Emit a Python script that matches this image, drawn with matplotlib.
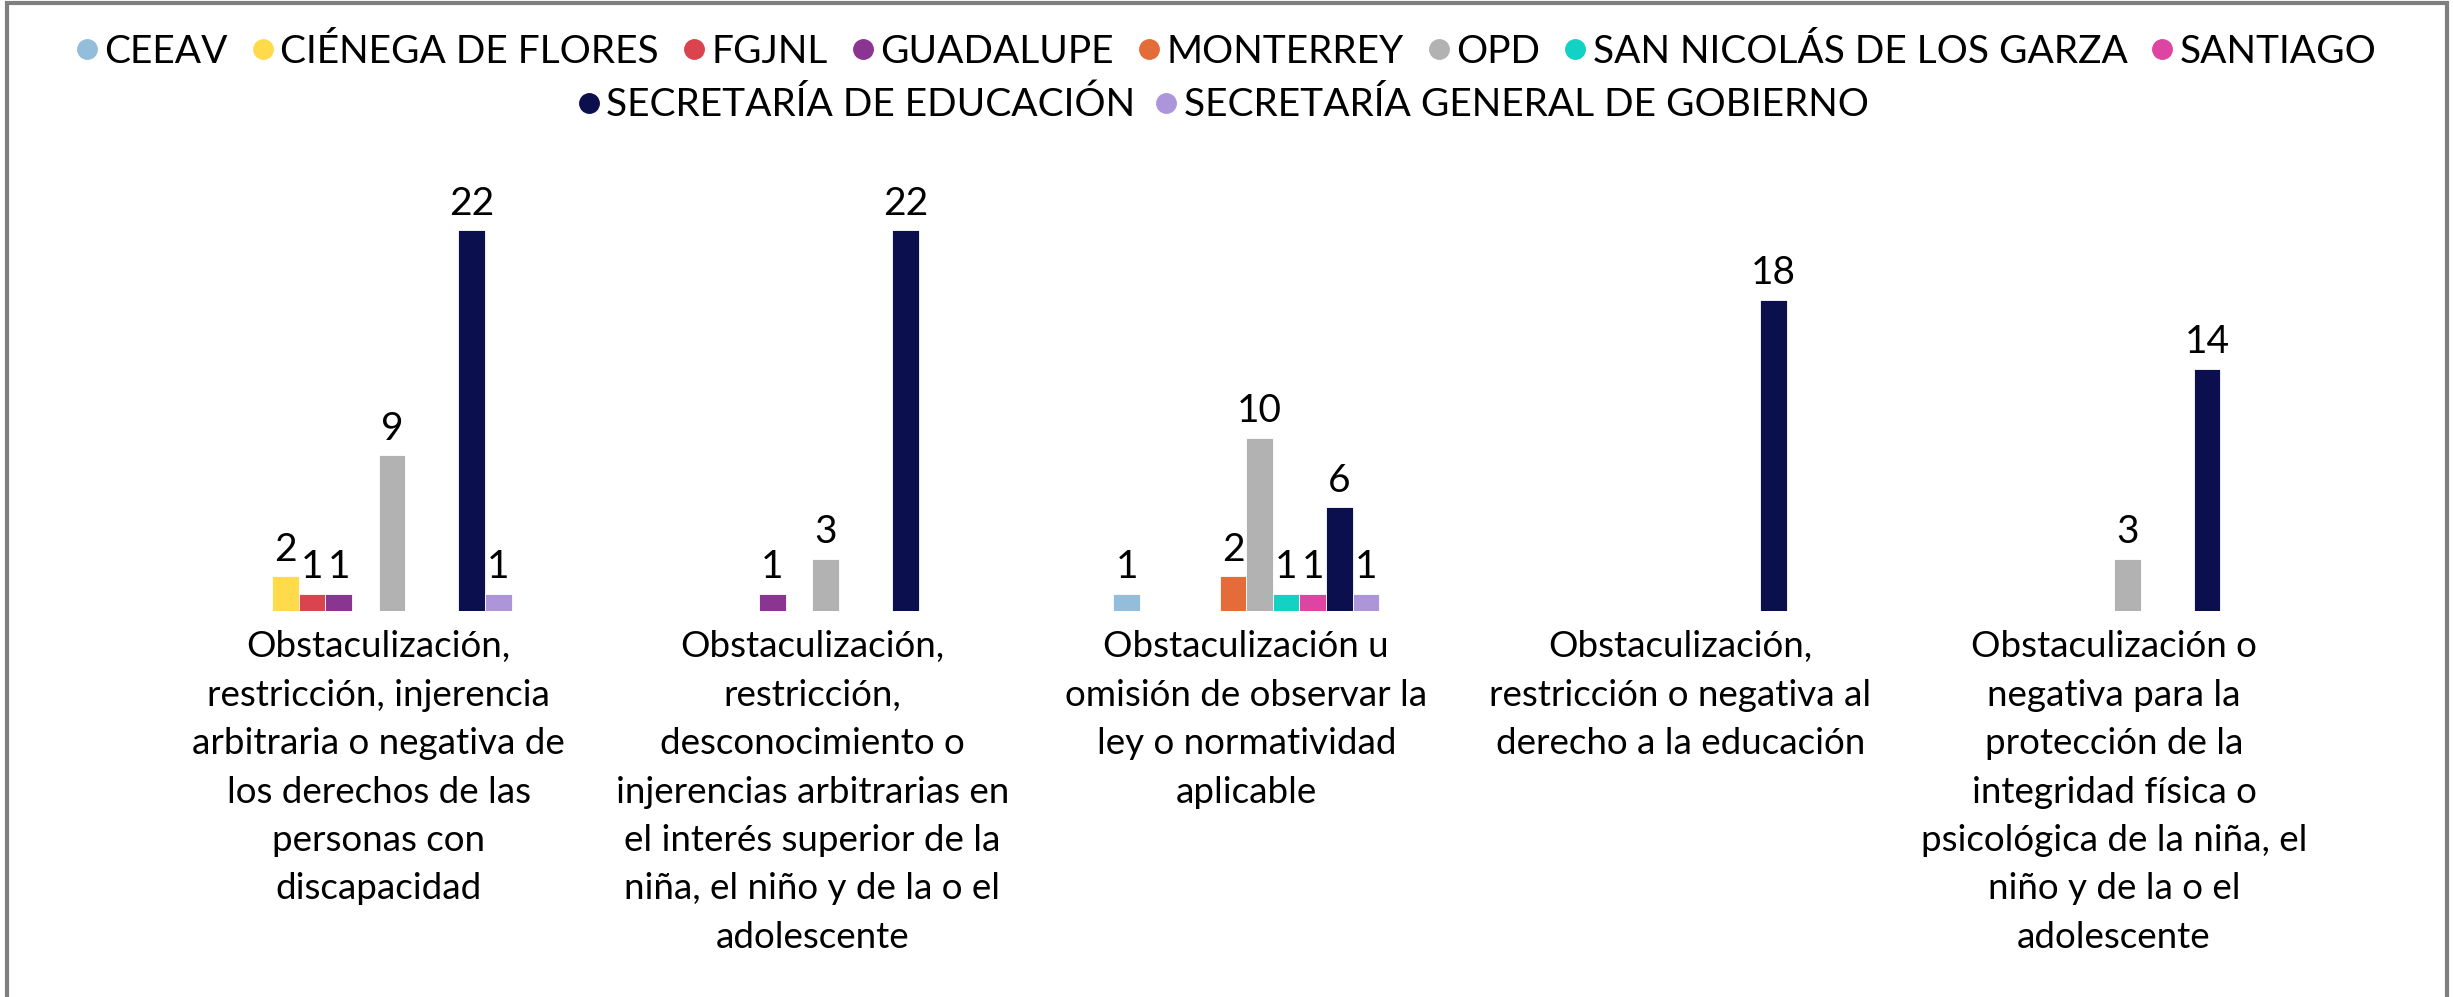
import matplotlib.pyplot as plt
from matplotlib.lines import Line2D
from matplotlib.patches import Rectangle

plt.rcParams['font.family'] = ['Lato', 'DejaVu Sans']

series = ["CEEAV", "CIÉNEGA DE FLORES", "FGJNL", "GUADALUPE", "MONTERREY", "OPD",
          "SAN NICOLÁS DE LOS GARZA", "SANTIAGO", "SECRETARÍA DE EDUCACIÓN",
          "SECRETARÍA GENERAL DE GOBIERNO"]
colors = ["#92BDDB", "#FFDB4B", "#D9444F", "#8B3592", "#E46C38", "#B2B2B2",
          "#13D1C4", "#DE45A3", "#0B0F4E", "#AD95DA"]

categories = [
    "Obstaculización,\nrestricción, injerencia\narbitraria o negativa de\nlos derechos de las\npersonas con\ndiscapacidad",
    "Obstaculización,\nrestricción,\ndesconocimiento o\ninjerencias arbitrarias en\nel interés superior de la\nniña, el niño y de la o el\nadolescente",
    "Obstaculización u\nomisión de observar la\nley o normatividad\naplicable",
    "Obstaculización,\nrestricción o negativa al\nderecho a la educación",
    "Obstaculización o\nnegativa para la\nprotección de la\nintegridad física o\npsicológica de la niña, el\nniño y de la o el\nadolescente",
]

# values per series, one per category (0 = no bar)
ceeav = [0, 0, 1, 0, 0]
cienega = [2, 0, 0, 0, 0]
fgjnl = [1, 0, 0, 0, 0]
guadalupe = [1, 1, 0, 0, 0]
monterrey = [0, 0, 2, 0, 0]
opd = [9, 3, 10, 0, 3]
san_nicolas = [0, 0, 1, 0, 0]
santiago = [0, 0, 1, 0, 0]
sec_educacion = [22, 22, 6, 18, 14]
sec_gobierno = [1, 0, 1, 0, 0]
values = [ceeav, cienega, fgjnl, guadalupe, monterrey, opd,
          san_nicolas, santiago, sec_educacion, sec_gobierno]

W, H = 2453, 997
fig = plt.figure(figsize=(W / 100, H / 100), dpi=100)

# axes placement in pixels
x_left, x_right = 161.6, 2331.0
y_base, y_top = 611.0, 230.4
ax = fig.add_axes([x_left / W, 1 - y_base / H, (x_right - x_left) / W, (y_base - y_top) / H])

w = 0.0613
for i, (name, vals, col) in enumerate(zip(series, values, colors)):
    for c, v in enumerate(vals):
        if v == 0:
            continue
        x = c + (i - 4.5) * w
        ax.bar(x, v, width=w, color=col, edgecolor='white', linewidth=0.6)
        ax.text(x, v + 0.5, str(v), ha='center', va='bottom', fontsize=28, color='black')

ax.set_xlim(-0.5, 4.5)
ax.set_ylim(0, 22)
for s in ax.spines.values():
    s.set_visible(False)
ax.set_yticks([])
ax.set_xticks(range(len(categories)))
ax.set_xticklabels(categories, fontsize=26.5, linespacing=1.57, va='top')
ax.tick_params(axis='x', length=0, pad=14)

# legend in two centered rows
handles = [Line2D([], [], marker='o', linestyle='', markersize=14, color=c) for c in colors]
fig.legend(handles[:8], series[:8], loc='center', bbox_to_anchor=(1226 / W, 1 - 52 / H),
           ncol=8, frameon=False, fontsize=28, handlelength=0.6, handletextpad=0.15,
           columnspacing=0.6, borderpad=0)
fig.legend(handles[8:], series[8:], loc='center', bbox_to_anchor=(1223 / W, 1 - 105 / H),
           ncol=2, frameon=False, fontsize=28, handlelength=0.6, handletextpad=0.15,
           columnspacing=0.5, borderpad=0)

# chart frame
fig.patches.append(Rectangle((7 / W, -0.02), (2447 - 7) / W, 1.02 - 3 / H,
                             transform=fig.transFigure, fill=False,
                             edgecolor='#7F7F7F', linewidth=3))

fig.savefig("out.png", dpi=100)
